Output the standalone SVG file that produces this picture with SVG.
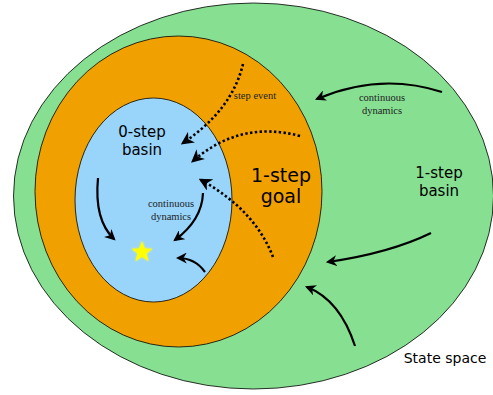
<svg xmlns="http://www.w3.org/2000/svg" width="493" height="395" viewBox="0 0 493 395">
<defs>
<style>
.sans{font-family:"DejaVu Sans","Liberation Sans",sans-serif;fill:#000}
.serif{font-family:"Liberation Serif","DejaVu Serif",serif;fill:#222;font-size:10.5px}
.solid{fill:none;stroke:#000;stroke-width:2.2;marker-end:url(#ah)}
.dot{fill:none;stroke:#000;stroke-width:2.6;stroke-dasharray:2.4 2.4;marker-end:url(#ah)}
</style>
<marker id="ah" viewBox="0 0 10 10" refX="8" refY="5" markerWidth="5" markerHeight="5" orient="auto" markerUnits="strokeWidth">
<path d="M0,0 L10,5 L0,10 L3,5 Z" fill="#000"/>
</marker>
<filter id="glow" x="-50%" y="-50%" width="200%" height="200%">
<feGaussianBlur stdDeviation="1.2"/>
</filter>
</defs>
<rect width="493" height="395" fill="#fff"/>
<g id="state-space">
<ellipse cx="253.5" cy="196" rx="240" ry="193" fill="#87df92" stroke="#000" stroke-width="0.8"/>
<text class="sans" x="445" y="363" font-size="14" text-anchor="middle">State space</text>
</g>
<g id="one-step-goal">
<ellipse cx="178.5" cy="191.5" rx="143.5" ry="155.5" fill="#f0a100" stroke="#000" stroke-width="0.8"/>
<text class="sans" x="281" y="182" font-size="19" text-anchor="middle">1-step</text>
<text class="sans" x="281" y="203" font-size="19" text-anchor="middle">goal</text>
</g>
<g id="zero-step-basin">
<ellipse cx="153.5" cy="200" rx="78.5" ry="102" fill="#99d5fb" stroke="#000" stroke-width="0.8"/>
<text class="sans" x="142" y="137" font-size="15" text-anchor="middle">0-step</text>
<text class="sans" x="142" y="155" font-size="15" text-anchor="middle">basin</text>
</g>
<g id="one-step-basin">
<text class="sans" x="439" y="178" font-size="15" text-anchor="middle">1-step</text>
<text class="sans" x="439" y="196" font-size="15" text-anchor="middle">basin</text>
</g>
<g id="star">
<polygon points="142,241 144.8,248.5 152.5,248.7 146.4,253.6 148.6,261.2 142,256.8 135.4,261.2 137.6,253.6 131.5,248.7 139.2,248.5" fill="#fff34a" filter="url(#glow)"/>
<polygon points="142,241 144.8,248.5 152.5,248.7 146.4,253.6 148.6,261.2 142,256.8 135.4,261.2 137.6,253.6 131.5,248.7 139.2,248.5" fill="#ffff00"/>
</g>
<g id="labels">
<text class="serif" x="255" y="99" text-anchor="middle" font-size="10">step event</text>
<text class="serif" x="382" y="101" text-anchor="middle">continuous</text>
<text class="serif" x="382" y="114" text-anchor="middle">dynamics</text>
<text class="serif" x="171" y="207" text-anchor="middle">continuous</text>
<text class="serif" x="171" y="220" text-anchor="middle">dynamics</text>
</g>
<g id="connectors">
<path class="solid" d="M442,92 Q380,72 317,99"/>
<path class="solid" d="M431,233 Q390,253 328,262"/>
<path class="solid" d="M355,346 Q340,300 307,287"/>
<path class="solid" d="M98,178 Q94,220 114,239"/>
<path class="solid" d="M203,193 Q202,220 175,240"/>
<path class="solid" d="M205,272 Q195,258 178,258"/>
<path class="dot" d="M243,64 Q232,110 183,143"/>
<path class="dot" d="M300,136 Q240,120 193,161"/>
<path class="dot" d="M273,257 Q255,210 201,180"/>
</g>
</svg>
